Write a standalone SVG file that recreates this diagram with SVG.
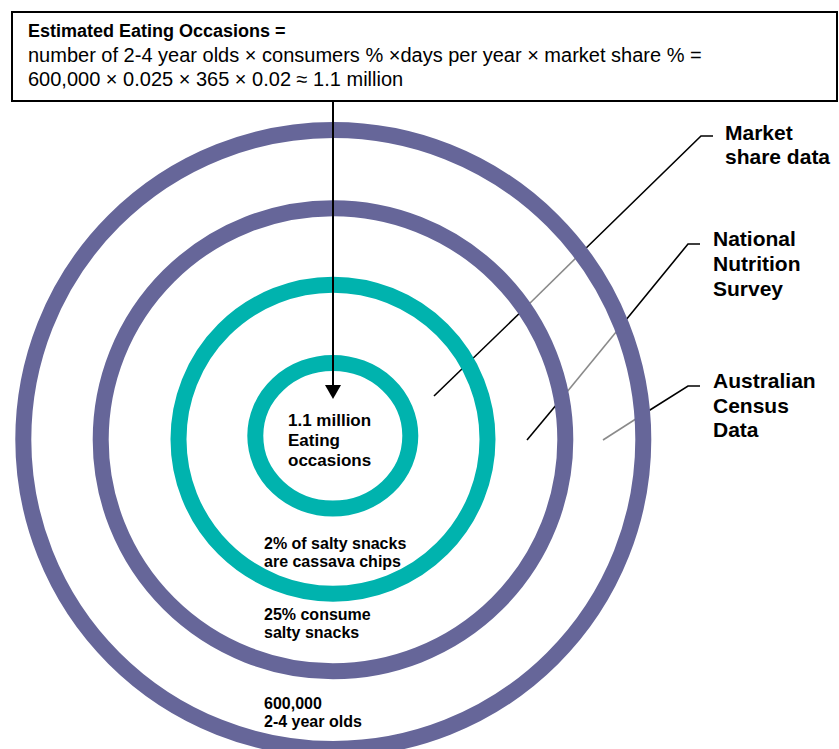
<svg xmlns="http://www.w3.org/2000/svg" width="839" height="749" viewBox="0 0 839 749">
<style>
.ring-p{fill:none;stroke:#666699;stroke-width:16}
.ring-t{fill:none;stroke:#00B3AE;stroke-width:16}
.lbl{font-family:"Liberation Sans",Arial,sans-serif;font-weight:bold;fill:#000}
.side{font-size:21px}
.inner{font-size:16px}
.lead{fill:none;stroke:#000;stroke-width:1.6}
.lead-g{fill:none;stroke:#8a8a8a;stroke-width:1.6}
.box{fill:#fff;stroke:#000;stroke-width:2}
</style>
<rect width="839" height="749" fill="#fff"/>
<g id="connectors">
<polyline class="lead" points="713,136 701,136 581,253"/>
<line class="lead-g" x1="581" y1="253" x2="525" y2="308"/>
<line class="lead" x1="525" y1="308" x2="434" y2="396"/>
<polyline class="lead" points="700,244 688,244 621,326"/>
<line class="lead-g" x1="621" y1="326" x2="562" y2="398"/>
<line class="lead" x1="562" y1="398" x2="527" y2="440"/>
<polyline class="lead" points="700,386 688,386 642,415"/>
<line class="lead-g" x1="642" y1="415" x2="603" y2="440"/>
</g>
<g id="census-ring"><ellipse class="ring-p" cx="333.3" cy="439.5" rx="310" ry="309.5"/></g>
<g id="survey-ring"><ellipse class="ring-p" cx="333" cy="439.7" rx="232.3" ry="231.5"/></g>
<g id="market-ring"><ellipse class="ring-t" cx="333" cy="439.2" rx="154.5" ry="154.5"/></g>
<g id="core-ring"><ellipse class="ring-t" cx="332.8" cy="435.8" rx="77.5" ry="72.8"/></g>
<g id="formula-box">
<rect class="box" x="12" y="12" width="825" height="89"/>
<text x="28" y="37" font-family="Liberation Sans, Arial, sans-serif" font-size="18" font-weight="bold">Estimated Eating Occasions =</text>
<text x="28" y="62" font-family="Liberation Sans, Arial, sans-serif" font-size="20">number of 2-4 year olds × consumers % ×days per year × market share % =</text>
<text x="28" y="86" font-family="Liberation Sans, Arial, sans-serif" font-size="20">600,000 × 0.025 × 365 × 0.02 ≈ 1.1 million</text>
</g>
<g id="arrow">
<line x1="333" y1="101" x2="333" y2="387" stroke="#000" stroke-width="2"/>
<polygon points="325,385 341,385 333,399" fill="#000"/>
</g>
<g id="center-label">
<text class="lbl" font-size="17" x="288" y="426">1.1 million</text>
<text class="lbl" font-size="17" x="288" y="446">Eating</text>
<text class="lbl" font-size="17" x="288" y="466">occasions</text>
</g>
<g id="market-label">
<text class="lbl inner" x="264" y="549">2% of salty snacks</text>
<text class="lbl inner" x="264" y="567">are cassava chips</text>
</g>
<g id="survey-label">
<text class="lbl inner" x="264" y="620">25% consume</text>
<text class="lbl inner" x="264" y="638">salty snacks</text>
</g>
<g id="census-label">
<text class="lbl inner" x="264" y="709">600,000</text>
<text class="lbl inner" x="264" y="727">2-4 year olds</text>
</g>
<g id="market-share-data">
<text class="lbl side" x="725" y="140">Market</text>
<text class="lbl side" x="725" y="164">share data</text>
</g>
<g id="national-nutrition-survey">
<text class="lbl side" x="713" y="246">National</text>
<text class="lbl side" x="713" y="271">Nutrition</text>
<text class="lbl side" x="713" y="296">Survey</text>
</g>
<g id="australian-census-data">
<text class="lbl side" x="713" y="388">Australian</text>
<text class="lbl side" x="713" y="413">Census</text>
<text class="lbl side" x="713" y="437">Data</text>
</g>
</svg>
